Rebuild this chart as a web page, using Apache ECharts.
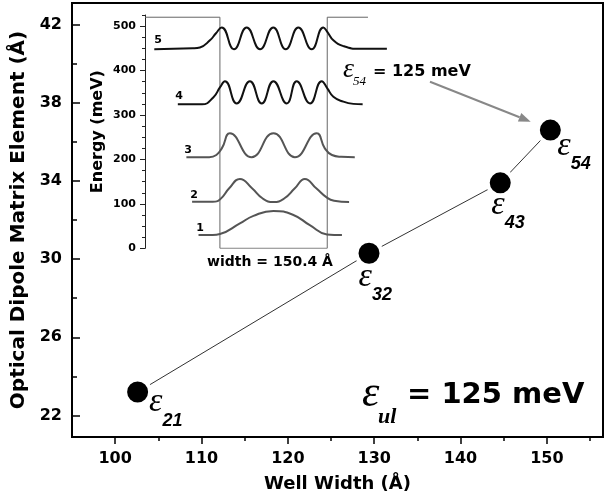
<!DOCTYPE html>
<html>
<head>
<meta charset="utf-8">
<script src="https://cdn.jsdelivr.net/npm/echarts@6/dist/echarts.min.js"></script>
<style>
html, body { margin: 0; padding: 0; background: #fff; }
#main { width: 607px; height: 502px; }
</style>
</head>
<body>
<div id="main"></div>
<script>
// main plot: dipole matrix element vs well width
var wellWidths = [102.6, 129.4, 144.6, 150.4];
var dipoles = [23.2, 30.3, 33.9, 36.6];
var transLabels = ['21', '32', '43', '54'];
var xMajor = [100, 110, 120, 130, 140, 150];
var xMinor = [105, 115, 125, 135, 145, 155];
var yMajor = [22, 26, 30, 34, 38, 42];
var yMinor = [24, 28, 32, 36, 40];

// inset: well profile and levels (x in A, y in meV)
var eMajor = [0, 100, 200, 300, 400, 500];
var eMinor = [0, 25, 50, 75, 100, 125, 150, 175, 200, 225, 250, 275, 300, 325, 350, 375, 400, 425, 450, 475, 500, 525];
var levelNames = ['1', '2', '3', '4', '5'];
var potential = [[0, 520], [105, 520], [105, 0], [255.4, 0], [255.4, 520], [312.5, 520]];
var level1 = [[75, 30], [95, 30], [105, 32], [133, 56], [152, 73], [180, 84], [208, 75], [231, 52], [255, 31], [265, 30], [276, 30]];
var level2 = [[66, 105], [95, 105], [105, 110], [118, 135], [133, 156], [150, 135], [165, 112], [180, 104], [195, 112], [210, 135], [224, 156], [240, 135], [255, 114], [265, 107], [286, 104]];
var level3 = [[58, 205], [90, 205], [100, 210], [108, 226], [119, 259], [149.5, 205], [180, 259], [210, 205], [240.6, 259], [252, 225], [262, 210], [275, 206], [294, 205]];
var level4 = [[46, 324], [80, 324], [96, 340], [105, 362], [112, 376], [128.5, 326], [147, 376], [163.6, 326], [180, 376], [198.6, 326], [212.6, 376], [231.3, 326], [247.7, 376], [255.5, 360], [264, 341], [278, 330], [292, 325], [305, 324]];
var level5 = [[13, 448], [67, 450], [77, 452], [91, 468], [99.5, 484], [107.5, 497], [124.7, 448], [142.5, 497], [161.2, 448], [179.8, 497], [197.2, 448], [214.9, 497], [233.6, 448], [249.9, 497], [255.5, 487], [264, 468], [278, 455], [301, 449], [339, 449]];

var SANS = 'DejaVu Sans';
var SERIF = 'Liberation Serif';

var chart = echarts.init(document.getElementById('main'), null, { renderer: 'canvas' });

// where each epsilon label sits around its point
var labelPlace = [[26, 8], [4, 21], [5.5, 20], [21.5, 13]];

var pointData = wellWidths.map(function (w, i) {
	return {
		value: [w, dipoles[i]],
		label: {
			show: true,
			position: labelPlace[i],
			align: 'left',
			verticalAlign: 'top',
			formatter: '{e|ε}{s|' + transLabels[i] + '}'
		}
	};
});

function levelSeries(data, color) {
	return {
		type: 'line',
		xAxisIndex: 2,
		yAxisIndex: 2,
		data: data,
		showSymbol: false,
		smooth: 0.5,
		silent: true,
		lineStyle: { color: color, width: 2 },
		z: 3
	};
}

var tickFont = { fontFamily: SANS, fontWeight: 'bold', fontSize: 16, color: '#000' };

var option = {
	backgroundColor: '#fff',
	animation: false,
	grid: [
		{ left: 72, top: 3, right: 4, bottom: 65, show: true, borderColor: '#000', borderWidth: 2, backgroundColor: 'transparent' },
		{ left: 145, top: 15, width: 242.6, height: 233.3 }
	],
	xAxis: [
		{
			gridIndex: 0, type: 'value', min: 95, max: 156.5,
			name: 'Well Width (Å)', nameLocation: 'middle', nameGap: 38,
			nameTextStyle: { fontFamily: SANS, fontWeight: 'bold', fontSize: 18, color: '#000' },
			axisLine: { lineStyle: { color: '#000', width: 2 } },
			axisTick: { inside: false, length: 7, customValues: xMajor, lineStyle: { color: '#000', width: 1.5 } },
			axisLabel: Object.assign({ customValues: xMajor, margin: 14 }, tickFont),
			splitLine: { show: false }
		},
		{
			gridIndex: 0, type: 'value', min: 95, max: 156.5, position: 'bottom',
			axisLine: { show: false },
			axisTick: { inside: false, length: 4, customValues: xMinor, lineStyle: { color: '#000', width: 1.5 } },
			axisLabel: { show: false },
			splitLine: { show: false }
		},
		{
			gridIndex: 1, type: 'value', min: 0, max: 340, show: false
		}
	],
	yAxis: [
		{
			gridIndex: 0, type: 'value', min: 20.9, max: 43.1,
			name: 'Optical Dipole Matrix Element (Å)', nameLocation: 'middle', nameGap: 38, nameRotate: 90,
			nameTextStyle: { fontFamily: SANS, fontWeight: 'bold', fontSize: 20, color: '#000' },
			axisLine: { show: true, lineStyle: { color: '#000', width: 2 } },
			axisTick: { show: true, inside: true, length: 8, customValues: yMajor, lineStyle: { color: '#000', width: 1.5 } },
			axisLabel: Object.assign({ customValues: yMajor, margin: 10 }, tickFont),
			splitLine: { show: false }
		},
		{
			gridIndex: 0, type: 'value', min: 20.9, max: 43.1, position: 'left',
			axisLine: { show: false },
			axisTick: { show: true, inside: true, length: 5, customValues: yMinor, lineStyle: { color: '#000', width: 1.5 } },
			axisLabel: { show: false },
			splitLine: { show: false }
		},
		{
			gridIndex: 1, type: 'value', min: 0, max: 525,
			name: 'Energy (meV)', nameLocation: 'middle', nameGap: 39, nameRotate: 90,
			nameTextStyle: { fontFamily: SANS, fontWeight: 'bold', fontSize: 16, color: '#000' },
			axisLine: { show: true, lineStyle: { color: '#222', width: 1 } },
			axisTick: { show: true, inside: false, length: 5, customValues: eMajor, lineStyle: { color: '#222', width: 1 } },
			axisLabel: { customValues: eMajor, margin: 9, fontFamily: SANS, fontWeight: 'bold', fontSize: 11, color: '#000' },
			splitLine: { show: false }
		},
		{
			gridIndex: 1, type: 'value', min: 0, max: 525, position: 'left',
			axisLine: { show: false },
			axisTick: { show: true, inside: false, length: 3, customValues: eMinor, lineStyle: { color: '#222', width: 1 } },
			axisLabel: { show: false },
			splitLine: { show: false }
		}
	],
	series: [
		{
			type: 'line',
			xAxisIndex: 0,
			yAxisIndex: 0,
			data: pointData,
			symbol: 'circle',
			symbolSize: 25,
			lineStyle: { color: '#333', width: 1 },
			itemStyle: { color: '#000', borderColor: '#fff', borderWidth: 4 },
			label: {
				rich: {
					e: { fontFamily: SERIF, fontStyle: 'italic', fontSize: 34, lineHeight: 34, color: '#000' },
					s: { fontFamily: 'Liberation Sans', fontStyle: 'italic', fontWeight: 'bold', fontSize: 18, lineHeight: 16, color: '#000', padding: [36, 0, 0, 0] }
				}
			},
			z: 5
		},
		{
			type: 'line',
			xAxisIndex: 2,
			yAxisIndex: 2,
			data: potential,
			showSymbol: false,
			silent: true,
			lineStyle: { color: '#666', width: 1 },
			z: 2
		},
		levelSeries(level1, '#555'),
		levelSeries(level2, '#555'),
		levelSeries(level3, '#555'),
		levelSeries(level4, '#111'),
		levelSeries(level5, '#111')
	],
	graphic: [
		// level numbers in the inset
		{ type: 'text', style: { x: 158, y: 40, text: levelNames[4], font: 'bold 11px DejaVu Sans', fill: '#000', textAlign: 'center', textVerticalAlign: 'middle' } },
		{ type: 'text', style: { x: 179, y: 96, text: levelNames[3], font: 'bold 11px DejaVu Sans', fill: '#000', textAlign: 'center', textVerticalAlign: 'middle' } },
		{ type: 'text', style: { x: 188, y: 150, text: levelNames[2], font: 'bold 11px DejaVu Sans', fill: '#000', textAlign: 'center', textVerticalAlign: 'middle' } },
		{ type: 'text', style: { x: 194, y: 195, text: levelNames[1], font: 'bold 11px DejaVu Sans', fill: '#000', textAlign: 'center', textVerticalAlign: 'middle' } },
		{ type: 'text', style: { x: 200, y: 228, text: levelNames[0], font: 'bold 11px DejaVu Sans', fill: '#000', textAlign: 'center', textVerticalAlign: 'middle' } },
		{ type: 'text', style: { x: 270, y: 262, text: 'width = 150.4 Å', font: 'bold 14px DejaVu Sans', fill: '#000', textAlign: 'center', textVerticalAlign: 'middle' } },
		// e54 = 125 meV annotation with arrow
		{ type: 'text', style: { x: 343, y: 70, text: 'ε', font: 'italic 28px Liberation Serif', fill: '#000', textAlign: 'left', textVerticalAlign: 'middle' } },
		{ type: 'text', style: { x: 353, y: 82, text: '54', font: 'italic 13px Liberation Serif', fill: '#000', textAlign: 'left', textVerticalAlign: 'middle' } },
		{ type: 'text', style: { x: 373, y: 72, text: '= 125 meV', font: 'bold 16px DejaVu Sans', fill: '#000', textAlign: 'left', textVerticalAlign: 'middle' } },
		{ type: 'line', shape: { x1: 430, y1: 81.7, x2: 519.6, y2: 117.3 }, style: { stroke: '#888', lineWidth: 2 } },
		{ type: 'polygon', shape: { points: [[530.7, 121.7], [517.9, 121.5], [521.3, 113.1]] }, style: { fill: '#888' } },
		// e_ul = 125 meV
		{ type: 'text', style: { x: 362, y: 394, text: 'ε', font: 'italic 44px Liberation Serif', fill: '#000', textAlign: 'left', textVerticalAlign: 'middle' } },
		{ type: 'text', style: { x: 378, y: 417, text: 'ul', font: 'italic bold 22px Liberation Serif', fill: '#000', textAlign: 'left', textVerticalAlign: 'middle' } },
		{ type: 'text', style: { x: 407, y: 395, text: '= 125 meV', font: 'bold 29px DejaVu Sans', fill: '#000', textAlign: 'left', textVerticalAlign: 'middle' } }
	]
};

chart.setOption(option);
</script>
</body>
</html>
